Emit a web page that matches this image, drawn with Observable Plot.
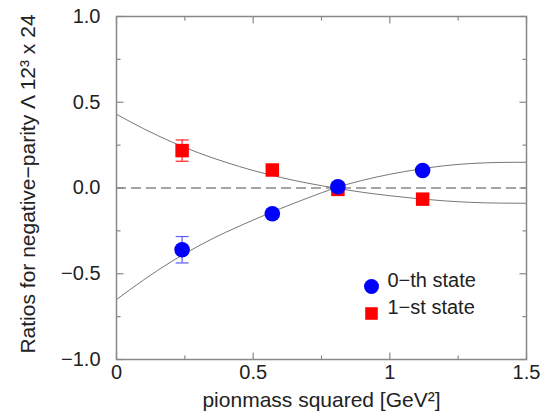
<!DOCTYPE html>
<html><head><meta charset="utf-8">
<script src="https://cdn.jsdelivr.net/npm/d3@7"></script>
<script src="https://cdn.jsdelivr.net/npm/@observablehq/plot@0.6"></script>
<style>body{margin:0;background:#fff;} svg{font-family:"Liberation Sans",Arial,sans-serif;}</style>
</head><body><div id="chart"></div>
<script>
// data points
const pionMass2 = [0.24, 0.57, 0.81, 1.12];
const state0 = [-0.36, -0.15, 0.007, 0.102];
const state0Err = [0.077, 0.0, 0.0, 0.0];
const state1 = [0.218, 0.105, -0.008, -0.065];
const state1Err = [0.062, 0.0, 0.0, 0.0];
// fitted curves
const curveX = [0, 0.1, 0.2, 0.3, 0.4, 0.5, 0.6, 0.7, 0.8, 0.9, 1.0, 1.1, 1.2, 1.3, 1.4, 1.5];
const curve0 = [-0.65, -0.535, -0.43, -0.338, -0.258, -0.187, -0.12, -0.058, 0.0, 0.045, 0.08, 0.108, 0.13, 0.143, 0.149, 0.15];
const curve1 = [0.43, 0.345, 0.27, 0.205, 0.15, 0.102, 0.062, 0.028, 0.0, -0.025, -0.045, -0.062, -0.075, -0.084, -0.088, -0.089];
const xTicks = [0, 0.5, 1, 1.5];
const xMinor = [0.25, 0.75, 1.25];
const yTicks = [-1, -0.5, 0, 0.5, 1];
const yMinor = [-0.75, -0.25, 0.25, 0.75];
const legendLabels = ["0\u2212th state", "1\u2212st state"];
const xLabel = "pionmass squared [GeV\u00b2]";
const yLabel = "Ratios for negative\u2212parity \u039b 12\u00b3 x 24";

const pts0 = pionMass2.map((x, i) => ({x, y: state0[i], e: state0Err[i]}));
const pts1 = pionMass2.map((x, i) => ({x, y: state1[i], e: state1Err[i]}));
const c0 = curveX.map((x, i) => ({x, y: curve0[i]}));
const c1 = curveX.map((x, i) => ({x, y: curve1[i]}));
const err0 = pts0.filter(d => d.e > 0);
const err1 = pts1.filter(d => d.e > 0);
const capSym = {draw(ctx, size) { const w = Math.sqrt(size) / 2; ctx.moveTo(-w, 0); ctx.lineTo(w, 0); }};
// tick symbols: segment of given length pointing in direction (dx, dy)
const seg = (dx, dy, len) => ({draw(ctx) { ctx.moveTo(0, 0); ctx.lineTo(dx * len, dy * len); }});
const gray = "#888";
const fs = 20;
const [xMin, xMax] = [xTicks[0], xTicks[xTicks.length - 1]];
const [yMin, yMax] = [yTicks[0], yTicks[yTicks.length - 1]];
const tickStyle = {stroke: gray, strokeWidth: 1.2, fill: "none", r: 5};
const xt = (ticks, yv, dir, len) => Plot.dot(ticks, {x: d => d, y: () => yv, symbol: seg(0, dir, len), ...tickStyle});
const yt = (ticks, xv, dir, len) => Plot.dot(ticks, {y: d => d, x: () => xv, symbol: seg(dir, 0, len), ...tickStyle});

const chart = Plot.plot({
  width: 542, height: 418,
  marginLeft: 116, marginRight: 16, marginTop: 16, marginBottom: 59,
  style: {fontSize: fs + "px", fontFamily: "Liberation Sans, Arial, sans-serif", color: "#222"},
  x: {domain: [xMin, xMax], axis: null},
  y: {domain: [yMin, yMax], axis: null},
  marks: [
    Plot.ruleY([0], {stroke: gray, strokeWidth: 1.5, strokeDasharray: "10,5"}),
    Plot.line(c0, {x: "x", y: "y", curve: "natural", stroke: "#777", strokeWidth: 1}),
    Plot.line(c1, {x: "x", y: "y", curve: "natural", stroke: "#777", strokeWidth: 1}),
    // error bars
    Plot.ruleX(err0, {x: "x", y1: d => d.y - d.e, y2: d => d.y + d.e, stroke: "#5b5bff", strokeWidth: 1.2}),
    Plot.dot(err0, {x: "x", y: d => d.y - d.e, symbol: capSym, r: 7.3, stroke: "#5b5bff", strokeWidth: 1.2, fill: "none"}),
    Plot.dot(err0, {x: "x", y: d => d.y + d.e, symbol: capSym, r: 7.3, stroke: "#5b5bff", strokeWidth: 1.2, fill: "none"}),
    Plot.ruleX(err1, {x: "x", y1: d => d.y - d.e, y2: d => d.y + d.e, stroke: "#ff2020", strokeWidth: 1.2}),
    Plot.dot(err1, {x: "x", y: d => d.y - d.e, symbol: capSym, r: 7.3, stroke: "#ff2020", strokeWidth: 1.2, fill: "none"}),
    Plot.dot(err1, {x: "x", y: d => d.y + d.e, symbol: capSym, r: 7.3, stroke: "#ff2020", strokeWidth: 1.2, fill: "none"}),
    // points
    Plot.dot(pts1, {x: "x", y: "y", symbol: "square", r: 7.6, fill: "#ff0000"}),
    Plot.dot(pts0, {x: "x", y: "y", symbol: "circle", r: 7.8, fill: "#0000ff"}),
    // inward ticks
    xt(xTicks, yMin, -1, 7), xt(xMinor, yMin, -1, 4),
    xt(xTicks, yMax, 1, 7), xt(xMinor, yMax, 1, 4),
    yt(yTicks, xMin, 1, 7), yt(yMinor, xMin, 1, 4),
    yt(yTicks, xMax, -1, 7), yt(yMinor, xMax, -1, 4),
    // tick labels
    Plot.text(xTicks, {x: d => d, frameAnchor: "bottom", dy: 19, fontSize: fs, fill: "#222", text: d => String(d)}),
    Plot.text(yTicks, {y: d => d, frameAnchor: "left", dx: -16, textAnchor: "end", fontSize: fs, fill: "#222", text: d => d3.format(".1f")(d)}),
    Plot.frame({stroke: gray, strokeWidth: 1.5}),
    // axis titles
    Plot.text([xLabel], {text: d => d, frameAnchor: "bottom", dy: 47, fontSize: 21, fill: "#222"}),
    Plot.text([yLabel], {text: d => d, frameAnchor: "left", textAnchor: "middle", rotate: -90, dx: -88, dy: -4, fontSize: 21, fill: "#222"}),
    // legend
    Plot.dot([legendLabels[0]], {frameAnchor: "bottom-right", dx: -155, dy: -73, r: 7.5, fill: "#0000ff", symbol: "circle"}),
    Plot.dot([legendLabels[1]], {frameAnchor: "bottom-right", dx: -155, dy: -46, r: 7.1, fill: "#ff0000", symbol: "square"}),
    Plot.text([legendLabels[0]], {text: d => d, frameAnchor: "bottom-right", dx: -139, dy: -73, textAnchor: "start", fontSize: fs, fill: "#222"}),
    Plot.text([legendLabels[1]], {text: d => d, frameAnchor: "bottom-right", dx: -139, dy: -46, textAnchor: "start", fontSize: fs, fill: "#222"})
  ]
});
document.getElementById("chart").appendChild(chart);
</script>
</body></html>
